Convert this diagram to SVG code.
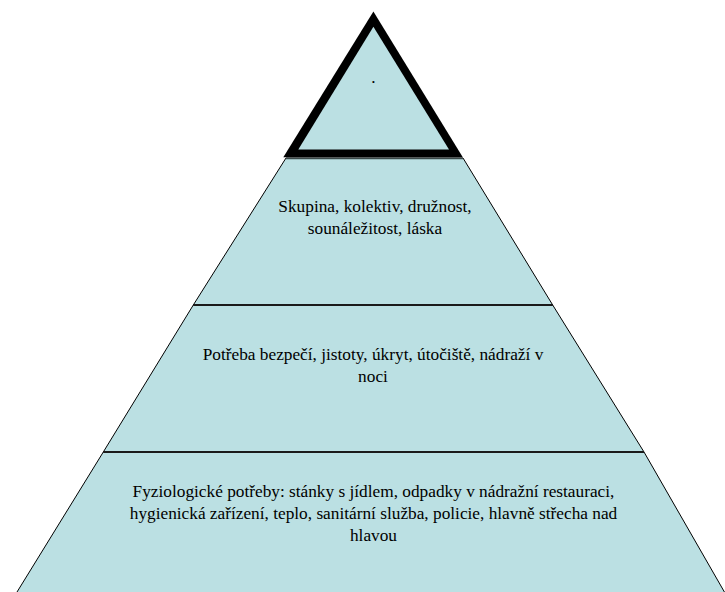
<svg xmlns="http://www.w3.org/2000/svg" width="725" height="592" viewBox="0 0 725 592">
<style>
.layer{fill:#bbe0e3;stroke:#000;stroke-width:1}
.t{font-family:"Liberation Serif","Times New Roman",serif;font-size:17.3px;fill:#000;text-anchor:middle}
.div{stroke:#1a1a1a;stroke-width:2.2;fill:none}
</style>
<rect width="725" height="592" fill="#fff"/>
<g id="level4">
<polygon class="layer" points="103.3,452 644,452 725,593 16.4,593"/>
<text class="t" x="373.5" y="497">Fyziologické potřeby: stánky s jídlem, odpadky v nádražní restauraci,</text>
<text class="t" x="373.5" y="519">hygienická zařízení, teplo, sanitární služba, policie, hlavně střecha nad</text>
<text class="t" x="373.5" y="540.5">hlavou</text>
</g>
<g id="level3">
<polygon class="layer" points="193.3,305 552.7,305 644,452 103.3,452"/>
<text class="t" x="373" y="360">Potřeba bezpečí, jistoty, úkryt, útočiště, nádraží v</text>
<text class="t" x="373" y="381.5">noci</text>
</g>
<g id="level2">
<polygon class="layer" points="286,158 463,158 552.7,305 193.3,305"/>
<text class="t" x="375" y="212">Skupina, kolektiv, družnost,</text>
<text class="t" x="375" y="234">sounáležitost, láska</text>
</g>
<g id="level1">
<polygon points="373.4,11.5 462.8,157.3 283.3,157.3" fill="#000"/>
<polygon points="373.4,26.7 449,149.5 298.3,149.5" fill="#bbe0e3"/>
<text class="t" x="373.4" y="83">.</text>
</g>
<g id="connectors">
<line x1="286" y1="158.5" x2="463" y2="158.5" stroke="#3b4a4a" stroke-width="1.5"/>
<line class="div" x1="193.3" y1="305" x2="552.7" y2="305"/>
<line class="div" x1="103.3" y1="452" x2="644" y2="452"/>
</g>
</svg>
